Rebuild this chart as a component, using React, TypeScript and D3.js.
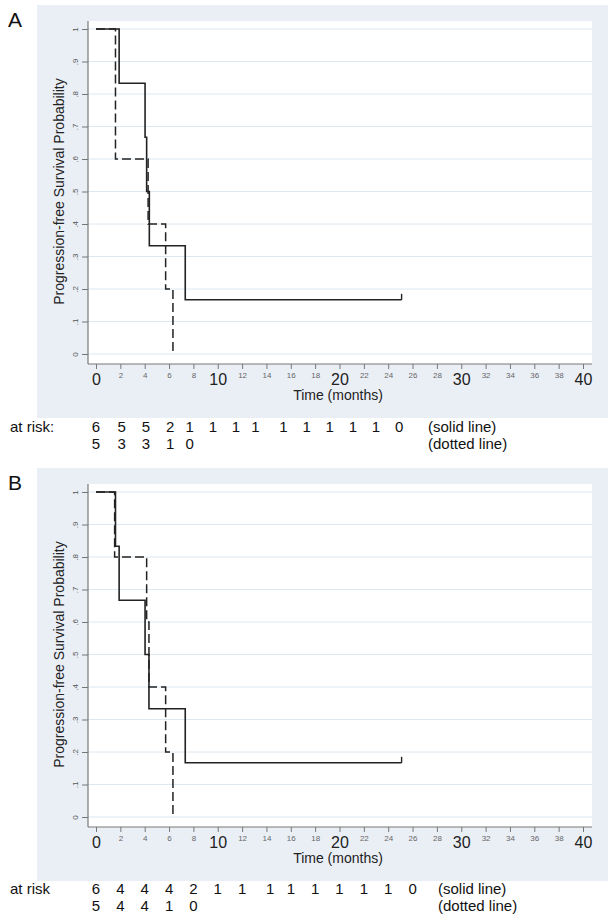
import { useEffect, useRef } from 'react';
import * as d3 from 'd3';

// time axis
const majorTicks = [0, 10, 20, 30, 40];
const minorTicks = [2, 4, 6, 8, 12, 14, 16, 18, 22, 24, 26, 28, 32, 34, 36, 38];
const yTicks = [0, 0.1, 0.2, 0.3, 0.4, 0.5, 0.6, 0.7, 0.8, 0.9, 1];
const yTickLabels = ['0', '.1', '.2', '.3', '.4', '.5', '.6', '.7', '.8', '.9', '1'];

// panel A – Kaplan-Meier steps (months, survival)
const solidTimesA = [0, 1.9, 4.03, 4.16, 4.38, 7.33];
const solidSurvA = [1, 0.8333, 0.6667, 0.5, 0.3333, 0.1667];
const solidEndA = 25.1;
const dashedTimesA = [0, 1.6, 4.28, 5.72, 6.32];
const dashedSurvA = [1, 0.6, 0.4, 0.2, 0];

// panel B
const solidTimesB = [0, 1.6, 1.9, 4.03, 4.35, 7.33];
const solidSurvB = [1, 0.8333, 0.6667, 0.5, 0.3333, 0.1667];
const solidEndB = 25.1;
const dashedTimesB = [0, 1.53, 4.16, 4.35, 5.72, 6.32];
const dashedSurvB = [1, 0.8, 0.6, 0.4, 0.2, 0];

// numbers at risk (month under which each count is printed)
const riskTimesA = [0, 2.1, 4.1, 6.1, 7.7, 9.6, 11.5, 13.1, 15.4, 17.3, 19.2, 21.1, 23, 24.9];
const riskSolidA = [6, 5, 5, 2, 1, 1, 1, 1, 1, 1, 1, 1, 1, 0];
const riskDottedA = [5, 3, 3, 1, 0];
const riskTimesB = [0, 2, 4, 6, 8, 10, 12, 14.3, 16, 18, 20, 22, 24, 26];
const riskSolidB = [6, 4, 4, 4, 2, 1, 1, 1, 1, 1, 1, 1, 1, 0];
const riskDottedB = [5, 4, 4, 1, 0];

const FONT = "'Liberation Sans', Arial, Helvetica, sans-serif";

function drawPanel(svg, o) {
    const g = svg.append('g').attr('transform', `translate(0, ${o.dy})`);

    const x = d3.scaleLinear().domain([0, 40]).range([96, 583]);
    const y = d3.scaleLinear().domain([0, 1]).range([354, 29]);
    const plotL = 88;
    const plotR = 592;
    const plotT = 21;
    const plotB = 364;

    // background + plot region
    g.append('rect').attr('x', 37).attr('y', 5).attr('width', 571).attr('height', 413).attr('fill', '#eaeff6');
    g.append('rect').attr('x', plotL).attr('y', plotT).attr('width', plotR - plotL).attr('height', plotB - plotT).attr('fill', '#fff');

    // grid
    g.append('g')
        .selectAll('line')
        .data(yTicks)
        .join('line')
        .attr('x1', plotL)
        .attr('x2', plotR)
        .attr('y1', (d) => y(d))
        .attr('y2', (d) => y(d))
        .attr('stroke', '#dde8f1')
        .attr('stroke-width', 1);

    // y axis
    const yAxis = d3
        .axisLeft(y)
        .tickValues(yTicks)
        .tickSize(6)
        .tickFormat((d, i) => yTickLabels[i]);
    g.append('g')
        .attr('transform', `translate(${plotL},0)`)
        .call(yAxis)
        .call((a) => a.select('.domain').remove())
        .call((a) => a.selectAll('.tick line').attr('stroke', '#777'))
        .call((a) =>
            a
                .selectAll('.tick text')
                .attr('font-family', FONT)
                .attr('font-size', 8)
                .attr('fill', '#555')
                .attr('text-anchor', 'middle')
                .attr('dy', null)
                .attr('x', null)
                .attr('transform', 'translate(-13,0) rotate(-90)')
                .attr('dominant-baseline', 'central')
        );
    g.append('line')
        .attr('x1', plotL)
        .attr('x2', plotL)
        .attr('y1', plotT)
        .attr('y2', plotB)
        .attr('stroke', '#777')
        .attr('stroke-width', 1.2);

    // x axis
    const xAxis = d3
        .axisBottom(x)
        .tickValues([...majorTicks, ...minorTicks].sort((a, b) => a - b))
        .tickSize(5)
        .tickPadding(3);
    g.append('g')
        .attr('transform', `translate(0,${plotB})`)
        .call(xAxis)
        .call((a) => a.select('.domain').remove())
        .call((a) => a.selectAll('.tick line').attr('stroke', '#777'))
        .call((a) =>
            a
                .selectAll('.tick text')
                .attr('font-family', FONT)
                .attr('fill', (d) => (majorTicks.includes(d) ? '#222' : '#666'))
                .attr('font-size', (d) => (majorTicks.includes(d) ? 16 : 8))
                .attr('y', (d) => (majorTicks.includes(d) ? 10 : 8))
        );
    g.append('line')
        .attr('x1', plotL)
        .attr('x2', plotR)
        .attr('y1', plotB)
        .attr('y2', plotB)
        .attr('stroke', '#777')
        .attr('stroke-width', 1.2);

    // axis titles
    g.append('text')
        .attr('x', (plotL + plotR) / 2 - 2)
        .attr('y', 400)
        .attr('text-anchor', 'middle')
        .attr('font-family', FONT)
        .attr('font-size', 14)
        .attr('fill', '#222')
        .text('Time (months)');
    g.append('text')
        .attr('transform', `translate(64,${y(0.5)}) rotate(-90)`)
        .attr('text-anchor', 'middle')
        .attr('font-family', FONT)
        .attr('font-size', 14)
        .attr('fill', '#222')
        .text('Progression-free Survival Probability');

    // panel letter
    g.append('text')
        .attr('x', 8)
        .attr('y', 27)
        .attr('font-family', FONT)
        .attr('font-size', 21)
        .attr('fill', '#111')
        .text(o.letter);

    // survival curves
    const line = d3
        .line()
        .x((d) => x(d[0]))
        .y((d) => y(d[1]))
        .curve(d3.curveStepAfter);

    const dashedPts = o.dashedTimes.map((t, i) => [t, o.dashedSurv[i]]);
    g.append('path')
        .attr('d', line(dashedPts))
        .attr('fill', 'none')
        .attr('stroke', '#222')
        .attr('stroke-width', 1.5)
        .attr('stroke-dasharray', '9,4');

    const solidPts = o.solidTimes.map((t, i) => [t, o.solidSurv[i]]);
    const last = o.solidSurv[o.solidSurv.length - 1];
    solidPts.push([o.solidEnd, last]);
    g.append('path')
        .attr('d', line(solidPts))
        .attr('fill', 'none')
        .attr('stroke', '#222')
        .attr('stroke-width', 1.6);
    // censor mark
    g.append('line')
        .attr('x1', x(o.solidEnd))
        .attr('x2', x(o.solidEnd))
        .attr('y1', y(last))
        .attr('y2', y(last) - 6)
        .attr('stroke', '#222')
        .attr('stroke-width', 1.4);

    // numbers at risk
    const risk = g.append('g').attr('font-family', FONT).attr('font-size', 15).attr('fill', '#111');
    risk.append('text').attr('x', o.labelX).attr('y', o.riskY).text(o.riskLabel);
    risk.append('g')
        .selectAll('text')
        .data(o.riskSolid)
        .join('text')
        .attr('x', (d, i) => x(o.riskTimes[i]))
        .attr('y', o.riskY)
        .attr('text-anchor', 'middle')
        .text((d) => d);
    risk.append('g')
        .selectAll('text')
        .data(o.riskDotted)
        .join('text')
        .attr('x', (d, i) => x(o.riskTimes[i]))
        .attr('y', o.riskY + 17)
        .attr('text-anchor', 'middle')
        .text((d) => d);
    risk.append('text').attr('x', o.legendX).attr('y', o.riskY).text('(solid line)');
    risk.append('text').attr('x', o.legendX).attr('y', o.riskY + 17).text('(dotted line)');
}

export default function App() {
    const ref = useRef(null);

    useEffect(() => {
        const svg = d3.select(ref.current);
        svg.selectAll('*').remove();

        drawPanel(svg, {
            dy: 0,
            letter: 'A',
            solidTimes: solidTimesA,
            solidSurv: solidSurvA,
            solidEnd: solidEndA,
            dashedTimes: dashedTimesA,
            dashedSurv: dashedSurvA,
            riskTimes: riskTimesA,
            riskSolid: riskSolidA,
            riskDotted: riskDottedA,
            riskLabel: 'at risk:',
            labelX: 10,
            riskY: 432,
            legendX: 428
        });
        drawPanel(svg, {
            dy: 463,
            letter: 'B',
            solidTimes: solidTimesB,
            solidSurv: solidSurvB,
            solidEnd: solidEndB,
            dashedTimes: dashedTimesB,
            dashedSurv: dashedSurvB,
            riskTimes: riskTimesB,
            riskSolid: riskSolidB,
            riskDotted: riskDottedB,
            riskLabel: 'at risk',
            labelX: 10,
            riskY: 431,
            legendX: 438
        });
    }, []);

    return (
        <div style={{ position: 'absolute', left: 0, top: 0, width: 612, height: 924, background: '#fff' }}>
            <svg ref={ref} width={612} height={924} style={{ display: 'block' }} />
        </div>
    );
}
